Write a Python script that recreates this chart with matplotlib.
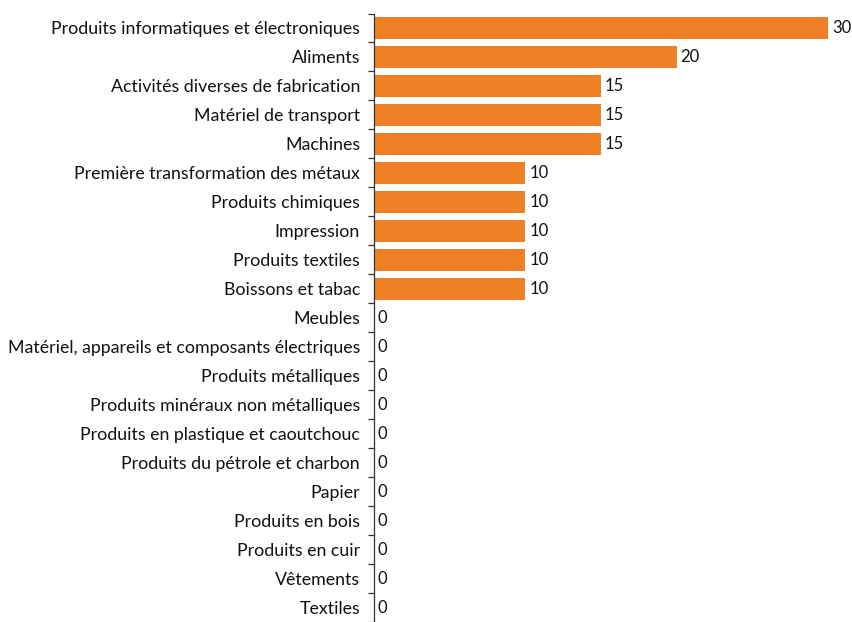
import numpy as np
import matplotlib.pyplot as plt

categories = [
    "Produits informatiques et électroniques",
    "Aliments",
    "Activités diverses de fabrication",
    "Matériel de transport",
    "Machines",
    "Première transformation des métaux",
    "Produits chimiques",
    "Impression",
    "Produits textiles",
    "Boissons et tabac",
    "Meubles",
    "Matériel, appareils et composants électriques",
    "Produits métalliques",
    "Produits minéraux non métalliques",
    "Produits en plastique et caoutchouc",
    "Produits du pétrole et charbon",
    "Papier",
    "Produits en bois",
    "Produits en cuir",
    "Vêtements",
    "Textiles",
]
values = [30, 20, 15, 15, 15, 10, 10, 10, 10, 10, 0, 0, 0, 0, 0, 0, 0, 0, 0, 0, 0]

plt.rcParams['font.family'] = ['Lato', 'DejaVu Sans']

fig = plt.figure(figsize=(8.53, 6.22), dpi=100)
ax = fig.add_axes([374 / 853, 0.0, (828 - 374) / 853, 1 - 13.5 / 622])

y = np.arange(len(categories))
ax.barh(y, values, height=0.76, color="#F08026")
ax.set_ylim(len(categories) - 0.5, -0.5)
ax.set_xlim(0, 30)

for yi, v in zip(y, values):
    ax.annotate(str(v), (v, yi), xytext=(2.8, 0), textcoords="offset points",
                va="center", ha="left", fontsize=12, color="#111111",
                annotation_clip=False)

ax.set_yticks(y)
ax.set_yticklabels(categories, fontsize=12.8, color="#111111")
ax.tick_params(axis="y", which="major", length=0, pad=10)
ax.set_yticks(np.arange(len(categories) + 1) - 0.5, minor=True)
ax.tick_params(axis="y", which="minor", length=4, width=0.9, color="#333333")

ax.set_xticks([])
for s in ["top", "right", "bottom"]:
    ax.spines[s].set_visible(False)
ax.spines["left"].set_color("#333333")
ax.spines["left"].set_linewidth(0.9)

fig.savefig("out.png", dpi=100)
